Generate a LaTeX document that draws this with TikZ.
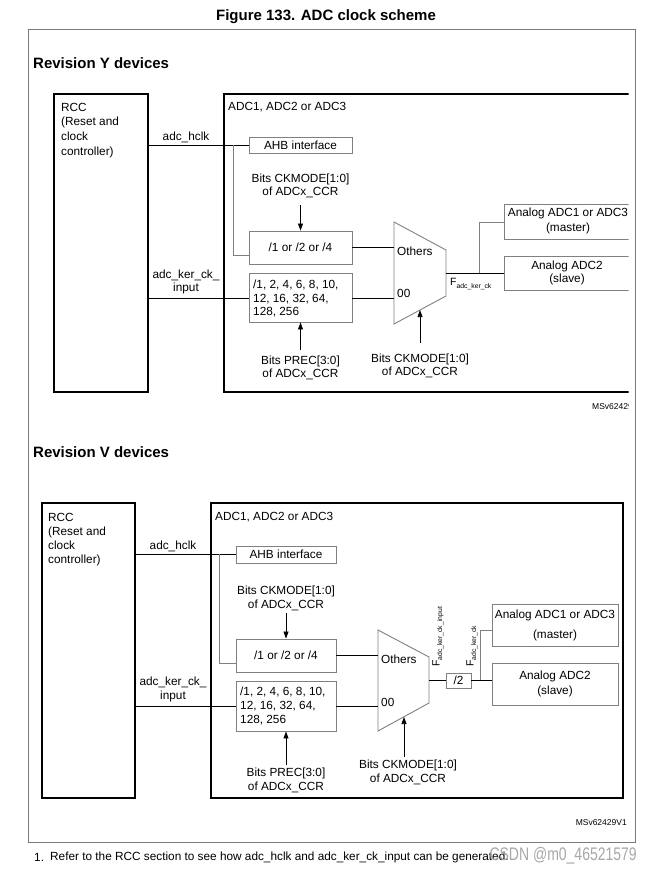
\documentclass[tikz,border=0pt]{standalone}
\usepackage{fontspec}
\setmainfont{Liberation Sans}
\usepackage{graphicx}
\usetikzlibrary{arrows.meta}
\definecolor{boxgray}{HTML}{808080}
\definecolor{framegray}{HTML}{7A7A7A}
\definecolor{wmgray}{HTML}{A8A8A8}
\begin{document}
\begin{tikzpicture}[x=1pt,y=-1pt,
  txt/.style={inner sep=0pt, font=\fontsize{11.8}{13.5}\selectfont},
  small/.style={inner sep=0pt, font=\fontsize{8.5}{10}\selectfont},
  head/.style={inner sep=0pt, font=\fontsize{15}{18}\selectfont\bfseries},
  mainbox/.style={draw=black, line width=1.3pt, inner sep=0pt},
  subbox/.style={draw=boxgray, line width=0.9pt, inner sep=0pt, font=\fontsize{11.8}{13.5}\selectfont},
  wire/.style={draw=black, line width=0.7pt},
  graywire/.style={draw=boxgray, line width=1pt},
  arr/.style={draw=black, line width=0.7pt, -{Triangle[width=5pt,length=7pt]}},
  muxshape/.style={draw=boxgray, line width=0.9pt},
]
\useasboundingbox (0,0) rectangle (651,873);
\draw[draw=framegray, line width=0.9pt] (28,29) rectangle (635,842);

\node[head] (title) at (326,17) {Figure 133. ADC clock scheme};
\node[head, anchor=west] (headY) at (33,63) {Revision Y devices};
\node[head, anchor=west] (headV) at (33,452) {Revision V devices};

% ================= Revision Y =================
\node[mainbox, minimum width=94pt, minimum height=298pt] (rccY) at (101,243) {};
\node[txt, anchor=north west, align=left, font=\fontsize{11.8}{14.6}\selectfont] (rccYt) at (61,102.8) {RCC\\(Reset and\\clock\\controller)};
\begin{scope}
\clip (0,80) rectangle (628.5,420);
\node[mainbox, minimum width=416pt, minimum height=298pt] (adcY) at (432,243) {};
\node[subbox, minimum width=136pt, minimum height=35pt] (an1Y) at (572,221.5) {};
\node[subbox, minimum width=136pt, minimum height=34pt] (an2Y) at (572,273) {};
\node[txt, align=center, font=\fontsize{11.8}{15}\selectfont] (an1Yt) at (568,220.5) {Analog ADC1 or ADC3\\(master)};
\node[txt, align=center, font=\fontsize{11.8}{12.5}\selectfont] (an2Yt) at (567,273) {Analog ADC2\\(slave)};
\node[small, anchor=west] (msY) at (592,407) {MSv62429V1};
\end{scope}
\node[txt, anchor=west] (adcYt) at (228,107) {ADC1, ADC2 or ADC3};
\node[txt] (hclkY) at (186,137.5) {adc\_hclk};
\node[subbox, minimum width=103pt, minimum height=16pt] (ahbY) at (300.5,145) {AHB interface};
\node[txt, align=center, font=\fontsize{11.8}{13}\selectfont] (ckY1) at (300.5,185.5) {Bits CKMODE[1:0]\\of ADCx\_CCR};
\node[subbox, minimum width=103pt, minimum height=33pt] (divY1) at (300.5,247.5) {/1 or /2 or /4};
\node[txt, align=center, font=\fontsize{11.8}{13}\selectfont] (kerY) at (186,281.5) {adc\_ker\_ck\_\\input};
\node[subbox, minimum width=103pt, minimum height=49pt] (divY2) at (300.5,297.5) {};
\node[txt, anchor=north west, align=left, font=\fontsize{11.8}{13.5}\selectfont] (divY2t) at (253,279.8) {/1, 2, 4, 6, 8, 10,\\12, 16, 32, 64,\\128, 256};
\node[txt, align=center, font=\fontsize{11.8}{13}\selectfont] (precY) at (300.5,367.5) {Bits PREC[3:0]\\of ADCx\_CCR};
\draw[muxshape] (394,222) -- (446,250) -- (446,296) -- (394,324) -- cycle;
\node[txt, anchor=west] (othY) at (397,251) {Others};
\node[txt, anchor=west] (zzY) at (397,293) {00};
\node[inner sep=0pt, anchor=west] (fY) at (450,284) {\fontsize{10.5}{12}\selectfont F\raisebox{-2.5pt}{\fontsize{6.8}{7}\selectfont adc\_ker\_ck}};
\node[txt, align=center, font=\fontsize{11.8}{13.5}\selectfont] (ckY2) at (420,366) {Bits CKMODE[1:0]\\of ADCx\_CCR};

\coordinate (muxYa) at (394,247.5);
\coordinate (muxYb) at (394,298);
\coordinate (muxYo) at (446,273);
\coordinate (muxYs) at (420,310);
\coordinate (brY) at (233,145);
\coordinate (brYin) at (249,255);
\coordinate (jY) at (479,273);
\coordinate (an1Yin) at (504,222);
\coordinate (kerYin) at (249,298);
\coordinate (ckY1a) at (300.5,205);
\coordinate (precYa) at (300.5,350);
\coordinate (ckY2a) at (420,343);

\draw[wire] (rccY.east |- ahbY.west) -- (ahbY.west);
\draw[graywire] (brY) |- (brYin);
\draw[wire] (rccY.east |- kerYin) -- (kerYin);
\draw[wire] (divY1.east) -- (muxYa);
\draw[wire] (divY2.east |- muxYb) -- (muxYb);
\draw[wire] (muxYo) -- (an2Y.west |- muxYo);
\draw[graywire] (jY) |- (an1Yin);
\draw[arr] (ckY1a) -- (divY1.north);
\draw[arr] (precYa) -- (divY2.south);
\draw[arr] (ckY2a) -- (muxYs);

% ================= Revision V =================
\node[mainbox, minimum width=93pt, minimum height=295pt] (rccV) at (88.5,650.5) {};
\node[txt, anchor=north west, align=left, font=\fontsize{11.8}{14.1}\selectfont] (rccVt) at (48,512.8) {RCC\\(Reset and\\clock\\controller)};
\node[mainbox, minimum width=412pt, minimum height=295pt] (adcV) at (417,650.5) {};
\node[txt, anchor=west] (adcVt) at (215,517) {ADC1, ADC2 or ADC3};
\node[txt] (hclkV) at (173,546) {adc\_hclk};
\node[subbox, minimum width=100pt, minimum height=17pt] (ahbV) at (286,554.5) {AHB interface};
\node[txt, align=center, font=\fontsize{11.8}{14}\selectfont] (ckV1) at (286,598) {Bits CKMODE[1:0]\\of ADCx\_CCR};
\node[subbox, minimum width=100pt, minimum height=33pt] (divV1) at (286,655.5) {/1 or /2 or /4};
\node[txt, align=center, font=\fontsize{11.8}{14.5}\selectfont] (kerV) at (173,689.5) {adc\_ker\_ck\_\\input};
\node[subbox, minimum width=100pt, minimum height=50pt] (divV2) at (286,706) {};
\node[txt, anchor=north west, align=left, font=\fontsize{11.8}{14}\selectfont] (divV2t) at (240,686.7) {/1, 2, 4, 6, 8, 10,\\12, 16, 32, 64,\\128, 256};
\node[txt, align=center, font=\fontsize{11.8}{14}\selectfont] (precV) at (286,780) {Bits PREC[3:0]\\of ADCx\_CCR};
\draw[muxshape] (378,630) -- (429,657) -- (429,703) -- (378,731) -- cycle;
\node[txt, anchor=west] (othV) at (381,659) {Others};
\node[txt, anchor=west] (zzV) at (381,702) {00};
\node[subbox, minimum width=25pt, minimum height=15pt] (div2V) at (458.5,680.5) {/2};
\node[subbox, minimum width=126pt, minimum height=42pt] (an1V) at (555,625) {};
\node[txt, align=center, font=\fontsize{11.8}{20}\selectfont] (an1Vt) at (555,625) {Analog ADC1 or ADC3\\(master)};
\node[subbox, minimum width=126pt, minimum height=42pt, align=center, font=\fontsize{11.8}{15}\selectfont] (an2V) at (555,684) {Analog ADC2\\(slave)};
\node[inner sep=0pt, rotate=90, anchor=west] (fV1) at (438,667) {\fontsize{10.5}{12}\selectfont F\raisebox{-2.5pt}{\fontsize{6.8}{7}\selectfont adc\_ker\_ck\_input}};
\node[inner sep=0pt, rotate=90, anchor=west] (fV2) at (472,667) {\fontsize{10.5}{12}\selectfont F\raisebox{-2.5pt}{\fontsize{6.8}{7}\selectfont adc\_ker\_ck}};
\node[txt, align=center, font=\fontsize{11.8}{14}\selectfont] (ckV2) at (408,772) {Bits CKMODE[1:0]\\of ADCx\_CCR};
\node[small, anchor=east] (msV) at (627,823) {MSv62429V1};

\coordinate (muxVa) at (378,655.5);
\coordinate (muxVb) at (378,706);
\coordinate (muxVo) at (429,680);
\coordinate (muxVs) at (404,717);
\coordinate (brV) at (219,554);
\coordinate (brVin) at (236,663);
\coordinate (jV) at (480,680);
\coordinate (an1Vin) at (492,630);
\coordinate (kerVin) at (236,706);
\coordinate (ckV1a) at (286,613);
\coordinate (precVa) at (286,765);
\coordinate (ckV2a) at (404,757);

\draw[wire] (rccV.east |- ahbV.west) -- (ahbV.west);
\draw[graywire] (brV) |- (brVin);
\draw[wire] (rccV.east |- kerVin) -- (kerVin);
\draw[wire] (divV1.east) -- (muxVa);
\draw[wire] (divV2.east |- muxVb) -- (muxVb);
\draw[wire] (muxVo) -- (div2V.west |- muxVo);
\draw[wire] (div2V.east |- muxVo) -- (an2V.west |- muxVo);
\draw[graywire] (jV) |- (an1Vin);
\draw[arr] (ckV1a) -- (divV1.north);
\draw[arr] (precVa) -- (divV2.south);
\draw[arr] (ckV2a) -- (muxVs);

% ================= footnote =================
\node[txt, anchor=west] (fnum) at (34,857) {1.};
\node[txt, anchor=west] (fn) at (50,857) {Refer to the RCC section to see how adc\_hclk and adc\_ker\_ck\_input can be generated.};
\node[inner sep=0pt, anchor=east, text=wmgray, font=\fontsize{14}{14}\selectfont] (wm) at (637,856) {\scalebox{1}[1.3]{CSDN @m0\_46521579}};
\end{tikzpicture}
\end{document}
